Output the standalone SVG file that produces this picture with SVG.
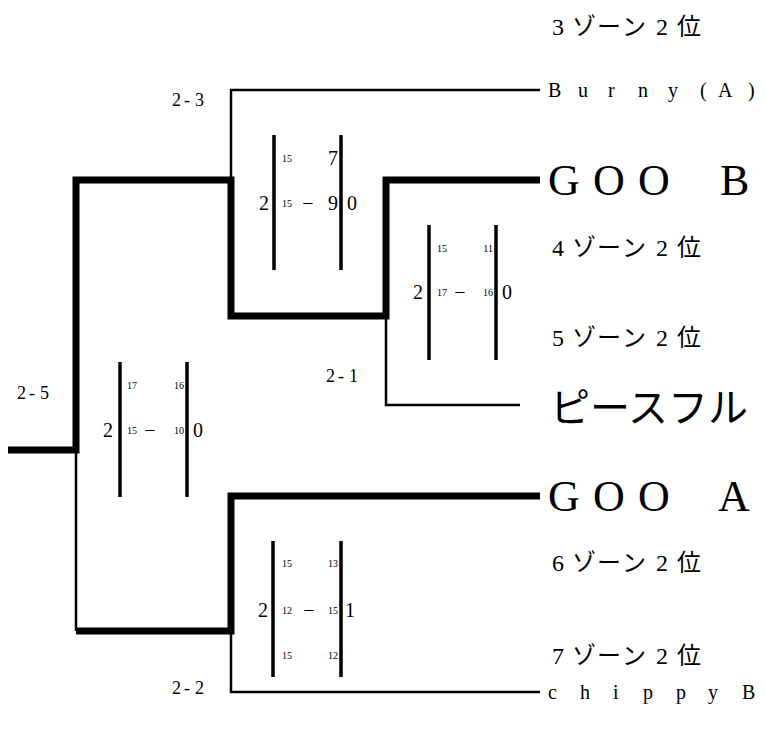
<svg xmlns="http://www.w3.org/2000/svg" width="765" height="736" viewBox="0 0 765 736">
<style>
.thick{stroke:#000;stroke-width:7;fill:none;stroke-linejoin:miter;stroke-linecap:butt}
.thin{stroke:#000;stroke-width:2.5;fill:none;stroke-linejoin:miter}
.bar{stroke:#000;stroke-width:3.5}
.big{font-size:20px}
.sm{font-size:10px}
.rd{font-size:18px}
.zone{font-size:24px}
.team{font-size:20px}
.huge{font-size:44px}
.kata{font-size:40px}
.mid{text-anchor:middle}
.end{text-anchor:end}
</style>
<rect width="765" height="736" fill="#fff"/>
<g id="connectors">
<polyline class="thick" points="8,450 76,450 76,180 231,180 231,316 386,316 386,180 540,180"/>
<polyline class="thin" points="231,180 231,90 540,90"/>
<polyline class="thin" points="386,316 386,405 520,405"/>
<polyline class="thin" points="76,450 76,631"/>
<polyline class="thick" points="76,631 231,631 231,496 540,496"/>
<polyline class="thin" points="231,631 231,692 540,692"/>
</g>
<g font-family="Times New Roman, Liberation Serif, DejaVu Serif, Noto Sans CJK JP, serif" fill="#000" dominant-baseline="central">
<g id="round-labels">
<text class="rd" x="172 184 195" y="100">2-3</text>
<text class="rd" x="17 29 40" y="393">2-5</text>
<text class="rd" x="326 338 349" y="376">2-1</text>
<text class="rd" x="172 184 195" y="688">2-2</text>
</g>
<g id="score-2-3">
<line class="bar" x1="274" y1="135" x2="274" y2="270"/>
<line class="bar" x1="341" y1="135" x2="341" y2="270"/>
<text class="big mid" x="264" y="203">2</text>
<text class="sm" x="282" y="158">15</text>
<text class="big end" x="338" y="158">7</text>
<text class="sm" x="282" y="203">15</text>
<text class="big mid" x="308" y="203">−</text>
<text class="big end" x="338" y="203">9</text>
<text class="big mid" x="352" y="203">0</text>
</g>
<g id="score-2-1">
<line class="bar" x1="429" y1="225" x2="429" y2="360"/>
<line class="bar" x1="496" y1="225" x2="496" y2="360"/>
<text class="big mid" x="418" y="292">2</text>
<text class="sm" x="437" y="248">15</text>
<text class="sm end" x="493" y="248">11</text>
<text class="sm" x="437" y="292">17</text>
<text class="big mid" x="460" y="292">−</text>
<text class="sm end" x="493" y="292">16</text>
<text class="big mid" x="507" y="292">0</text>
</g>
<g id="score-2-5">
<line class="bar" x1="120" y1="362" x2="120" y2="497"/>
<line class="bar" x1="187" y1="362" x2="187" y2="497"/>
<text class="big mid" x="108" y="430">2</text>
<text class="sm" x="127" y="385">17</text>
<text class="sm end" x="184" y="385">16</text>
<text class="sm" x="127" y="430">15</text>
<text class="big mid" x="150" y="430">−</text>
<text class="sm end" x="184" y="430">10</text>
<text class="big mid" x="198" y="430">0</text>
</g>
<g id="score-2-2">
<line class="bar" x1="273" y1="541" x2="273" y2="677"/>
<line class="bar" x1="341" y1="541" x2="341" y2="677"/>
<text class="big mid" x="263" y="610">2</text>
<text class="sm" x="282" y="563">15</text>
<text class="sm end" x="338" y="563">13</text>
<text class="sm" x="282" y="610">12</text>
<text class="big mid" x="309" y="610">−</text>
<text class="sm end" x="338" y="610">15</text>
<text class="big mid" x="350" y="610">1</text>
<text class="sm" x="282" y="655">15</text>
<text class="sm end" x="338" y="655">12</text>
</g>
<g id="zone3"><text class="zone" x="552 572 597 622 656 677" y="27">3ゾーン2位</text></g>
<g id="burny"><text class="team" x="548 578 608 638 668 690 700 718 748" y="90">Burny (A)</text></g>
<g id="goo-b"><text class="huge" x="548 593 638 683 720" y="180">GOO B</text></g>
<g id="zone4"><text class="zone" x="552 572 597 622 656 677" y="248">4ゾーン2位</text></g>
<g id="zone5"><text class="zone" x="552 572 597 622 656 677" y="338">5ゾーン2位</text></g>
<g id="peaceful"><text class="kata" x="550" y="405" font-family="Noto Sans CJK JP, sans-serif">ピースフル</text></g>
<g id="goo-a"><text class="huge" x="548 593 638 683 718" y="496">GOO A</text></g>
<g id="zone6"><text class="zone" x="552 572 597 622 656 677" y="563">6ゾーン2位</text></g>
<g id="zone7"><text class="zone" x="552 572 597 622 656 677" y="656">7ゾーン2位</text></g>
<g id="chippy"><text class="team" x="548 580 613 643 676 708 725 742" y="692">chippy B</text></g>
</g>
</svg>
